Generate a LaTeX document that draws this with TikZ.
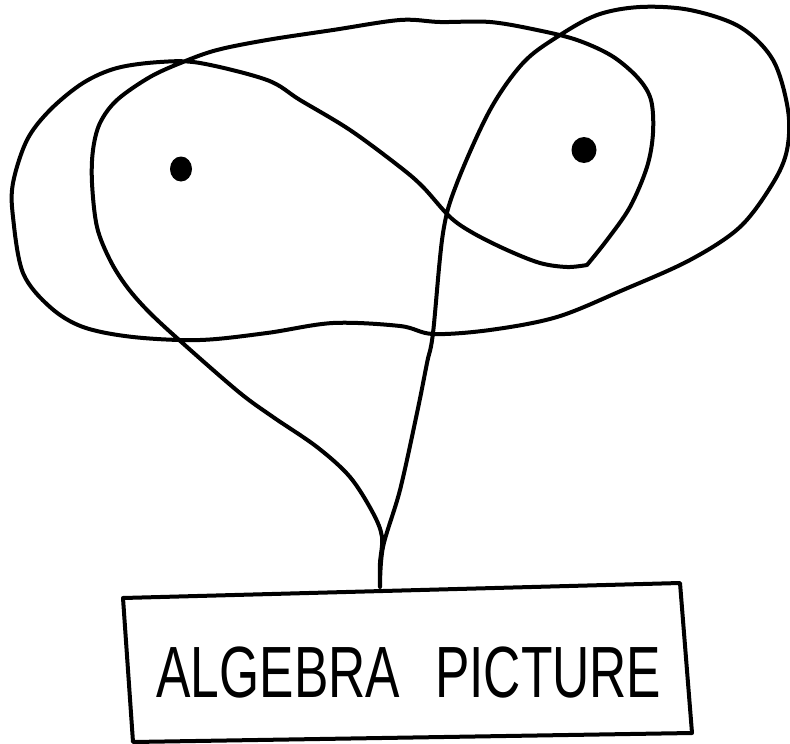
\documentclass[tikz,border=0pt]{standalone}
\usepackage{graphicx}
\usepackage{fontspec}
\setmainfont{Liberation Sans}
\begin{document}
\begin{tikzpicture}[x=1pt,y=-1pt,
  pen/.style={line width=4pt,line cap=round,line join=round,black},
  dotmark/.style={fill=black},
  labeltext/.style={font=\fontsize{72.6pt}{80pt}\selectfont, inner sep=0pt}]
\useasboundingbox (0,0) rectangle (790,744);
% the self-crossing closed curve
\draw[pen] plot[smooth,tension=0.55] coordinates {
 (380,587) (383,547) (400,490) (417,413) (427,363) (433,333) (443,233) (457,183)
 (490,110) (523,63) (557,37) (597,15) (640,7) (690,10) (740,27) (773,60) (788,110)
 (787,150) (773,183) (740,227) (690,260) (623,290) (557,317) (490,330) (433,334)
 (400,326) (333,323) (267,333) (200,340) (133,337) (83,327) (50,307) (23,273)
 (13,217) (13,183) (27,140) (50,110) (83,83) (117,68) (160,62) (200,63) (267,80)
 (300,100) (350,130) (400,167) (423,187) (450,217) (473,233) (507,250) (540,263)
 (567,267) (587,265)}
 -- plot[smooth,tension=0.55] coordinates {
 (587,265) (607,240) (630,207) (647,167) (653,133) (651,100) (638,78)
 (612,56) (577,40) (537,30) (490,22) (440,22) (400,20) (333,30) (267,40) (217,50)
 (183,62) (150,77) (117,100) (100,123) (93,150) (92,183) (97,227) (110,260)
 (127,287) (150,313) (187,347) (240,393) (273,417) (317,447) (350,477) (373,513)
 (382,537) (380,563) (380,587)};
% dots
\fill[dotmark] (181,169) ellipse [x radius=11, y radius=12.5];
\fill[dotmark] (584,150) ellipse [x radius=12.5, y radius=13];
% box
\coordinate (tl) at (123,598);
\coordinate (tr) at (680,583);
\coordinate (br) at (692,733);
\coordinate (bl) at (133,742);
\draw[pen] (tl) -- (tr) -- (br) -- (bl) -- cycle;
\node[labeltext] (label) at (409,673) {\scalebox{0.71}[1]{ALGEBRA\hspace{0.68em}PICTURE}};
\end{tikzpicture}
\end{document}
